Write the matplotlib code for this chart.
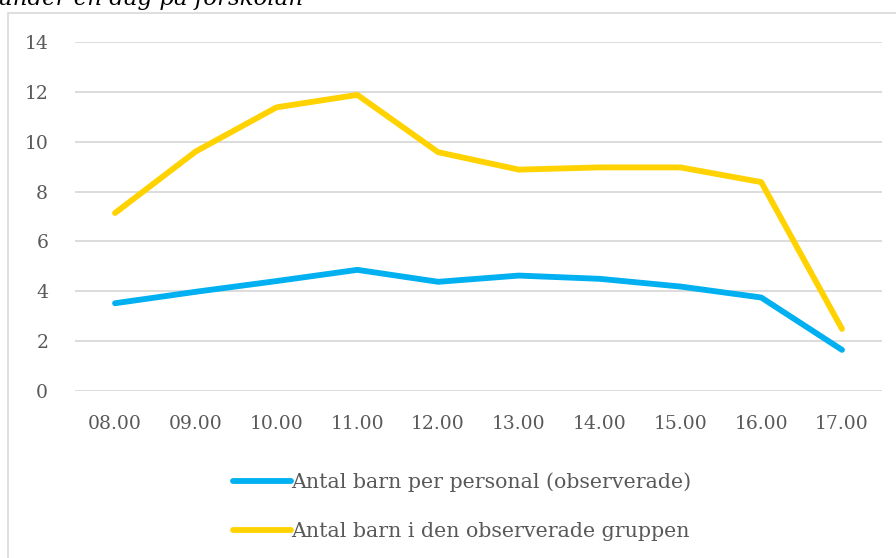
import matplotlib
matplotlib.use("Agg")
import matplotlib.pyplot as plt
from matplotlib.patches import Rectangle

plt.rcParams['font.family'] = ['DejaVu Serif']

timmar = ['08.00', '09.00', '10.00', '11.00', '12.00',
          '13.00', '14.00', '15.00', '16.00', '17.00']
per_personal = [3.52, 3.98, 4.41, 4.86, 4.38, 4.63, 4.50, 4.19, 3.75, 1.65]
i_gruppen = [7.14, 9.61, 11.38, 11.88, 9.58, 8.88, 8.97, 8.97, 8.38, 2.49]
yticks = [0, 2, 4, 6, 8, 10, 12, 14]

fig = plt.figure(figsize=(8.96, 5.58), dpi=100)
ax = fig.add_axes([0.0833, 0.2993, 0.9015, 0.6254])

# ram runt diagrammet (fortsätter utanför bilden)
fig.patches.append(Rectangle((8 / 896, -0.1), 1.2, 1 - 13 / 558 + 0.1,
                             transform=fig.transFigure, fill=False,
                             edgecolor='#D9D9D9', lw=1.2))

x = range(len(timmar))
ax.plot(x, per_personal, color='#00B0F0', lw=4.2, solid_capstyle='round',
        solid_joinstyle='round', label='Antal barn per personal (observerade)', zorder=3)
ax.plot(x, i_gruppen, color='#FFD200', lw=4.2, solid_capstyle='round',
        solid_joinstyle='round', label='Antal barn i den observerade gruppen', zorder=3)

ax.set_xlim(-0.5, len(timmar) - 0.5)
ax.set_ylim(0, 14)
ax.set_yticks(yticks)
ax.set_xticks(list(x))
ax.set_xticklabels(timmar)
ax.grid(axis='y', color='#D9D9D9', lw=1.3)
ax.set_axisbelow(True)
for s in ax.spines.values():
    s.set_visible(False)
ax.tick_params(length=0, labelsize=13.5, labelcolor='#595959')
ax.tick_params(axis='y', pad=19)
ax.tick_params(axis='x', pad=17)

fig.legend(loc='center', bbox_to_anchor=(0.516, 0.092), frameon=False,
           fontsize=14.8, labelcolor='#595959', handlelength=2.8,
           handletextpad=0.0, labelspacing=1.45)

fig.text(-2 / 896, 1 - 5 / 558, 'under en dag på förskolan', style='italic',
         fontsize=16.5, va='baseline', ha='left')

fig.savefig('out.png', dpi=100)
